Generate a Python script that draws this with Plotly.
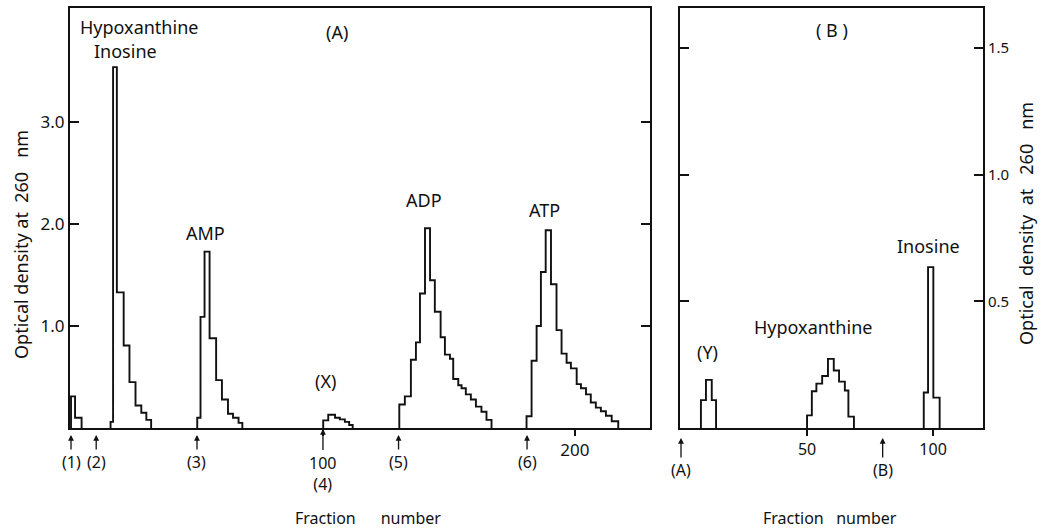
import plotly.graph_objects as go

# ---------------- data (fraction number edges, optical density at 260 nm) ----------------
# Panel A
a_peak1_edges = [0, 1.6, 4.2]
a_peak1_od = [0.31, 0.10]
a_hx_ino_edges = [15.7, 16.7, 18.2, 20.9, 23.2, 25.6, 27.9, 29.9, 31.8]
a_hx_ino_od = [0.06, 3.54, 1.33, 0.81, 0.45, 0.22, 0.15, 0.08]
a_amp_edges = [50.1, 51.4, 53.0, 55.0, 57.6, 59.9, 62.3, 64.3, 66.5, 68.0]
a_amp_od = [0.10, 1.09, 1.73, 0.88, 0.47, 0.28, 0.14, 0.10, 0.05]
a_x_edges = [100.1, 102.1, 104.8, 106.7, 108.7, 110.4, 111.8]
a_x_od = [0.075, 0.13, 0.10, 0.085, 0.06, 0.03]
a_adp_edges = [130.3, 132.5, 134.9, 136.9, 138.5, 140.5, 142.5, 144.4, 146.7, 148.4,
               150.4, 151.7, 153.7, 155.0, 156.7, 158.7, 160.7, 162.9, 164.9, 166.9]
a_adp_od = [0.23, 0.31, 0.67, 0.84, 1.32, 1.96, 1.45, 1.14, 0.89, 0.72,
            0.68, 0.48, 0.42, 0.39, 0.33, 0.28, 0.21, 0.16, 0.08]
a_atp_edges = [180.8, 182.8, 184.8, 186.5, 188.4, 190.5, 192.7, 194.7, 196.7, 198.4,
               200.7, 202.4, 204.4, 206.3, 208.3, 210.3, 212.3, 214.6, 217.2]
a_atp_od = [0.115, 0.66, 1.00, 1.53, 1.94, 1.41, 0.96, 0.73, 0.64, 0.585,
            0.43, 0.39, 0.33, 0.25, 0.20, 0.165, 0.12, 0.066]

# Panel B
b_y_edges = [7.9, 9.9, 12.2, 13.9]
b_y_od = [0.11, 0.19, 0.11]
b_hyp_edges = [50.0, 51.9, 53.7, 56.0, 58.3, 60.6, 62.7, 65.0, 66.4, 68.6]
b_hyp_od = [0.05, 0.145, 0.175, 0.205, 0.273, 0.227, 0.183, 0.148, 0.045]
b_ino_edges = [96.3, 98.0, 100.1, 102.6]
b_ino_od = [0.14, 0.635, 0.12]

# tick values / labels
a_y_ticks = [1.0, 2.0, 3.0]
a_y_ticktext = ["1.0", "2.0", "3.0"]
a_x_ticks = [100, 200]
a_x_ticktext = ["", "200"]
b_y_ticks = [0.5, 1.0, 1.5]
b_y_ticktext = ["0.5", "1.0", "1.5"]
b_x_ticks = [50, 100]
b_x_ticktext = ["50", "100"]

# sample-application arrows under the axes: (fraction, label)
a_arrows = [(0, "(1)"), (10, "(2)"), (50, "(3)"), (130, "(5)"), (181, "(6)")]
a_arrow4 = (100, "100<br>(4)")
b_arrows = [(0, "(A)"), (80, "(B)")]

# peak labels: (fraction, od, text)
a_labels = [(27, 3.93, "Hypoxanthine"), (21.5, 3.70, "Inosine"), (105.5, 3.88, "(A)"),
            (53.5, 1.91, "AMP"), (101, 0.46, "(X)"), (140, 2.24, "ADP"), (188, 2.14, "ATP")]
b_labels = [(60, 1.57, "( B )"), (98, 0.72, "Inosine"), (52.5, 0.40, "Hypoxanthine"),
            (10.5, 0.30, "(Y)")]

# ---------------- figure ----------------
W, H = 1041, 530
FONT = "Noto Sans"
INK = "#111111"


def px_x(p):
    return p / W


def px_y(p):
    return 1 - p / H


def step_xy(edges, vals):
    return [edges[0]] + list(edges), [0] + list(vals) + [0]


fig = go.Figure()

for edges, vals in [(a_peak1_edges, a_peak1_od), (a_hx_ino_edges, a_hx_ino_od),
                    (a_amp_edges, a_amp_od), (a_x_edges, a_x_od),
                    (a_adp_edges, a_adp_od), (a_atp_edges, a_atp_od)]:
    xs, ys = step_xy(edges, vals)
    fig.add_trace(go.Scatter(x=xs, y=ys, mode="lines", line=dict(shape="hv", color=INK, width=1.9),
                             xaxis="x", yaxis="y", showlegend=False, hoverinfo="skip"))

for edges, vals in [(b_y_edges, b_y_od), (b_hyp_edges, b_hyp_od), (b_ino_edges, b_ino_od)]:
    xs, ys = step_xy(edges, vals)
    fig.add_trace(go.Scatter(x=xs, y=ys, mode="lines", line=dict(shape="hv", color=INK, width=1.9),
                             xaxis="x2", yaxis="y2", showlegend=False, hoverinfo="skip"))

ydom = [px_y(428), px_y(8)]
axis_common = dict(showline=True, linecolor=INK, linewidth=2, mirror=True, showgrid=False,
                   zeroline=False, tickcolor=INK)

fig.update_layout(
    width=W, height=H, margin=dict(l=0, r=0, t=0, b=0),
    paper_bgcolor="white", plot_bgcolor="white",
    xaxis=dict(domain=[px_x(70), px_x(650)], range=[-0.4, 229.8], tickvals=a_x_ticks,
               ticktext=a_x_ticktext, ticks="outside", ticklen=6, tickwidth=1.5,
               tickfont=dict(family=FONT, size=17, color=INK), anchor="y", **axis_common),
    yaxis=dict(domain=ydom, range=[0, 4.12], tickvals=a_y_ticks, ticktext=a_y_ticktext,
               ticks="inside", ticklen=9, tickwidth=1.5, anchor="x",
               tickfont=dict(family=FONT, size=17, color=INK),
               **{**axis_common, "mirror": "ticks"}),
    xaxis2=dict(domain=[px_x(680), px_x(983)], range=[-0.4, 119.8], tickvals=b_x_ticks,
                ticktext=b_x_ticktext, ticks="outside", ticklen=6, tickwidth=1.5,
                tickfont=dict(family=FONT, size=16, color=INK), anchor="y2", **axis_common),
    yaxis2=dict(domain=ydom, range=[0, 1.658], tickvals=b_y_ticks, ticktext=b_y_ticktext,
                ticks="inside", ticklen=9, tickwidth=1.5, side="right", anchor="x2",
                tickfont=dict(family=FONT, size=15, color=INK),
                **{**axis_common, "mirror": "ticks"}),
)

ann = []
for fr, lab in a_arrows:
    ann.append(dict(x=fr, y=px_y(435), xref="x", yref="paper", text=lab, showarrow=True,
                    ax=0, ay=27, arrowhead=2, arrowsize=0.9, arrowwidth=1.3, arrowcolor=INK,
                    font=dict(family=FONT, size=16, color=INK)))
ann.append(dict(x=a_arrow4[0], y=px_y(429), xref="x", yref="paper", text=a_arrow4[1],
                showarrow=True, ax=0, ay=44, arrowhead=2, arrowsize=0.9, arrowwidth=1.3,
                arrowcolor=INK, font=dict(family=FONT, size=16, color=INK)))
for fr, lab in b_arrows:
    ann.append(dict(x=fr, y=px_y(438), xref="x2", yref="paper", text=lab, showarrow=True,
                    ax=0, ay=32, arrowhead=2, arrowsize=0.9, arrowwidth=1.3, arrowcolor=INK,
                    font=dict(family=FONT, size=16, color=INK)))

for fr, od, lab in a_labels:
    ann.append(dict(x=fr, y=od, xref="x", yref="y", text=lab, showarrow=False,
                    xanchor="center", yanchor="middle",
                    font=dict(family=FONT, size=18, color=INK)))
for fr, od, lab in b_labels:
    ann.append(dict(x=fr, y=od, xref="x2", yref="y2", text=lab, showarrow=False,
                    xanchor="center", yanchor="middle",
                    font=dict(family=FONT, size=18, color=INK)))

center = dict(xanchor="center", yanchor="middle", showarrow=False, xref="paper", yref="paper")
ann.append(dict(x=px_x(368), y=px_y(518),
                text="Fraction&nbsp;&nbsp;&nbsp;&nbsp;&nbsp;&nbsp;number",
                font=dict(family=FONT, size=16, color=INK), **center))
ann.append(dict(x=px_x(830), y=px_y(518),
                text="Fraction&nbsp;&nbsp;&nbsp;number",
                font=dict(family=FONT, size=16, color=INK), **center))
ann.append(dict(x=px_x(21), y=px_y(245),
                text="Optical density at&nbsp;&nbsp;260&nbsp;&nbsp;&nbsp;nm", textangle=-90,
                font=dict(family=FONT, size=18, color=INK), **center))
ann.append(dict(x=px_x(1026), y=px_y(224),
                text="Optical&nbsp;&nbsp;density&nbsp;&nbsp;at&nbsp;&nbsp;&nbsp;260&nbsp;&nbsp;&nbsp;nm",
                textangle=-90, font=dict(family=FONT, size=18, color=INK), **center))

fig.update_layout(annotations=ann)
# remove the default 8px page margin so the figure sits at the page origin
fig.write_html("out.html", config={"displayModeBar": False},
               post_script="document.body.style.margin='0';document.body.style.overflow='hidden';")
